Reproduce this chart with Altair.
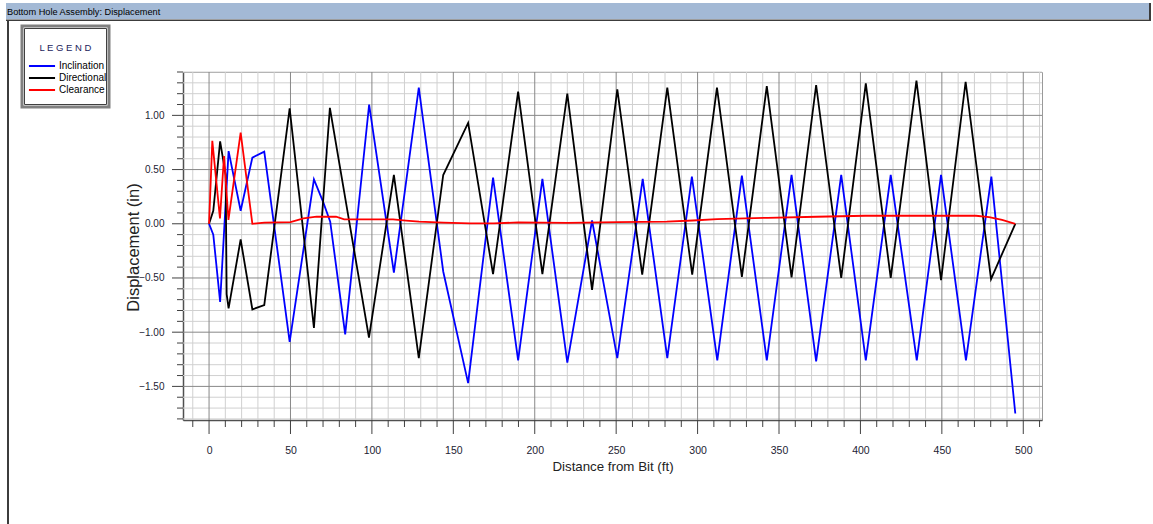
import altair as alt
import pandas as pd

# ---------------- data ----------------
series_names = ["Inclination", "Directional", "Clearance"]
series_colors = ["#0000ff", "#000000", "#ff0000"]

incl_x = [0, 2.6, 6.8, 12.0, 19.4, 26.6, 33.9, 49.5, 64.4, 70.1, 74.4, 83.6, 98.3, 113.5,
          128.8, 143.8, 159.1, 174.4, 189.8, 204.7, 220.0, 235.2, 250.7, 266.3, 281.4,
          296.5, 312.1, 327.2, 342.5, 357.7, 372.8, 388.2, 403.3, 418.6, 434.6, 449.5,
          464.8, 480.4, 495.1]
incl_y = [0, -0.10, -0.72, 0.67, 0.12, 0.61, 0.665, -1.09, 0.41, 0.20, 0.02, -1.02, 1.10, -0.45,
          1.255, -0.44, -1.47, 0.425, -1.26, 0.415, -1.28, 0.03, -1.24, 0.415, -1.24,
          0.435, -1.26, 0.445, -1.26, 0.45, -1.27, 0.45, -1.26, 0.45, -1.26, 0.45,
          -1.26, 0.435, -1.75]

dir_x = [0, 2.6, 6.8, 10.2, 10.8, 12.0, 19.4, 26.6, 33.9, 49.5, 64.4, 74.2, 98.2, 113.5,
         128.8, 143.8, 159.1, 174.4, 189.8, 204.7, 220.0, 235.2, 250.7, 266.0, 281.4,
         296.7, 311.9, 327.2, 342.5, 357.7, 372.8, 388.2, 403.3, 418.6, 434.4, 449.5,
         464.6, 480.2, 495.1]
dir_y = [0, 0.12, 0.76, 0.45, -0.65, -0.78, -0.145, -0.79, -0.75, 1.065, -0.96, 1.07, -1.05, 0.45,
         -1.24, 0.45, 0.93, -0.465, 1.22, -0.465, 1.20, -0.61, 1.24, -0.47, 1.255,
         -0.47, 1.255, -0.49, 1.27, -0.495, 1.28, -0.50, 1.295, -0.50, 1.32, -0.52,
         1.31, -0.51, 0.0]

clr_x = [0, 2.0, 6.7, 9.2, 11.9, 19.4, 26.6, 34, 50, 58, 66, 78, 83, 113, 121, 129, 144,
         160, 175, 190, 220, 251, 281, 297, 312, 343, 373, 403, 471, 479, 487, 495.1]
clr_y = [0, 0.765, 0.05, 0.625, 0.035, 0.84, 0.0, 0.01, 0.015, 0.05, 0.065, 0.065, 0.04,
         0.04, 0.03, 0.02, 0.01, 0.003, 0.003, 0.013, 0.008, 0.016, 0.02, 0.03, 0.043,
         0.055, 0.065, 0.074, 0.074, 0.062, 0.035, 0.0]

x_labels = [0, 50, 100, 150, 200, 250, 300, 350, 400, 450, 500]
y_labels = [-1.5, -1.0, -0.5, 0.0, 0.5, 1.0]
x_minor = [v for v in range(-10, 511, 10) if v % 50 != 0]
y_minor = [round(-1.8 + 0.1 * i, 1) for i in range(33)]
y_minor = [v for v in y_minor if v not in y_labels]

X_DOMAIN = [-16, 511.5]
Y_DOMAIN = [-1.81, 1.40]
W, H = 859, 348

FONT = "Liberation Sans, Arial, sans-serif"

# ---------------- tables ----------------
rows = []
for name, xs, ys in [("Inclination", incl_x, incl_y), ("Directional", dir_x, dir_y),
                     ("Clearance", clr_x, clr_y)]:
    for i, (a, b) in enumerate(zip(xs, ys)):
        rows.append({"series": name, "dist": a, "disp": b, "i": i})
df = pd.DataFrame(rows)

xs_scale = alt.Scale(domain=X_DOMAIN, nice=False, zero=False)
ys_scale = alt.Scale(domain=Y_DOMAIN, nice=False, zero=False)

x_axis = alt.Axis(values=x_labels, title="Distance from Bit (ft)", grid=False,
                  ticks=False, labelPadding=25, labelFont=FONT, labelFontSize=10.5,
                  labelColor="#222233", titleFont=FONT, titleFontSize=13.3,
                  titleFontWeight="normal", titleColor="#222222",
                  titleX=429.5, titleY=46, titleBaseline="middle",
                  domainColor="#505050", domainWidth=1.5)
y_axis = alt.Axis(values=y_labels, format=".2f", title="Displacement (in)", grid=False,
                  ticks=False, labelPadding=19, labelFont=FONT, labelFontSize=10,
                  labelColor="#222233", titleFont=FONT, titleFontSize=16.5,
                  titleFontWeight="normal", titleColor="#222222",
                  titleX=-49.5, titleY=175, titleAngle=-90, titleBaseline="middle",
                  titleAlign="center", domainColor="#505050", domainWidth=1.5)

X = lambda f: alt.X(f, scale=xs_scale, axis=x_axis)
Y = lambda f: alt.Y(f, scale=ys_scale, axis=y_axis)

one = pd.DataFrame({"k": [0]})


def xrule(vals, color, **enc):
    return alt.Chart(pd.DataFrame({"v": vals})).mark_rule(color=color, strokeWidth=1).encode(
        x=X("v:Q"), **enc)


def yrule(vals, color, **enc):
    return alt.Chart(pd.DataFrame({"v": vals})).mark_rule(color=color, strokeWidth=1).encode(
        y=Y("v:Q"), **enc)


grid_x_minor = xrule(x_minor, "#d0d0d0")
grid_y_minor = yrule(y_minor, "#d0d0d0")
grid_x_major = xrule(x_labels, "#888888")
grid_y_major = yrule(y_labels, "#888888")

tick_x_minor = xrule(x_minor, "#404040", y=alt.value(H), y2=alt.value(H + 7))
tick_x_major = xrule(x_labels, "#404040", y=alt.value(H), y2=alt.value(H + 14))
tick_y_minor = yrule(y_minor, "#404040", x=alt.value(-6), x2=alt.value(0))
tick_y_major = yrule(y_labels, "#404040", x=alt.value(-11), x2=alt.value(0))

lines = alt.Chart(df).mark_line(strokeWidth=1.8).encode(
    x=X("dist:Q"),
    y=Y("disp:Q"),
    color=alt.Color("series:N",
                    scale=alt.Scale(domain=series_names, range=series_colors),
                    sort=series_names,
                    legend=alt.Legend(orient="none", legendX=-146.5, legendY=-11.5,
                                      title=None,
                                      symbolType="M-2.9,0H2.9", symbolSize=81,
                                      symbolStrokeWidth=2, labelFont=FONT,
                                      labelFontSize=10, labelColor="#000000",
                                      labelOffset=11.5, rowPadding=1, padding=0)),
    detail="series:N",
    order="i:Q",
)

# ---------------- window decorations ----------------
title_bar = alt.Chart(one).mark_rect(color="#a3b9d5").encode(
    x=alt.value(-177), x2=alt.value(967), y=alt.value(-69), y2=alt.value(-53))
title_line = alt.Chart(one).mark_rect(color="#3c3c3c").encode(
    x=alt.value(-177), x2=alt.value(967), y=alt.value(-52.5), y2=alt.value(-51))
right_edge = alt.Chart(one).mark_rect(color="#3c3c3c").encode(
    x=alt.value(966), x2=alt.value(968), y=alt.value(-69), y2=alt.value(-51))
left_line = alt.Chart(one).mark_rect(color="#3c3c3c").encode(
    x=alt.value(-176), x2=alt.value(-174), y=alt.value(-51), y2=alt.value(452))
title_text = alt.Chart(one).mark_text(align="left", baseline="middle", font=FONT,
                                      fontSize=9.2, color="#000000").encode(
    x=alt.value(-176), y=alt.value(-60.5), text=alt.value("Bottom Hole Assembly: Displacement"))
legend_box = alt.Chart(one).mark_rect(fill="#ffffff", stroke="#808080", strokeWidth=3).encode(
    x=alt.value(-161), x2=alt.value(-74), y=alt.value(-46), y2=alt.value(35))
legend_inner = alt.Chart(one).mark_rect(fill="#ffffff", stroke="#404040", strokeWidth=1).encode(
    x=alt.value(-158.5), x2=alt.value(-76.5), y=alt.value(-43.5), y2=alt.value(32.5))
legend_title = alt.Chart(one).mark_text(align="center", baseline="middle", font=FONT,
                                        fontSize=9.5, color="#1c1c5c").encode(
    x=alt.value(-117.5), y=alt.value(-24), text=alt.value("L E G E N D"))

chart = alt.layer(
    title_bar, title_line, right_edge, left_line, title_text,
    legend_box, legend_inner, legend_title,
    grid_x_minor, grid_y_minor, grid_x_major, grid_y_major,
    tick_x_minor, tick_x_major, tick_y_minor, tick_y_major,
    lines,
).properties(
    width=W, height=H,
    autosize=alt.AutoSizeParams(type="none"),
    padding={"left": 183, "top": 72, "right": 111, "bottom": 104},
    background="#ffffff",
).configure_view(stroke="#9a9a9a", strokeWidth=1)

chart.save("out.html", embed_options={"renderer": "svg", "actions": False})
